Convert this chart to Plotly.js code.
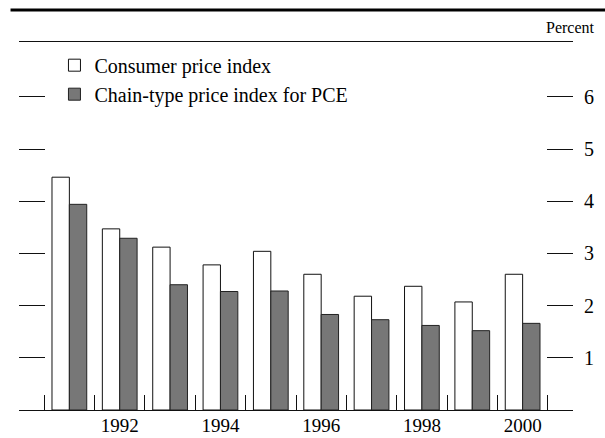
<!DOCTYPE html>
<html>
<head>
<meta charset="utf-8">
<script src="https://cdn.plot.ly/plotly-3.0.1.min.js"></script>
<style>html,body{margin:0;padding:0;background:#fff;}#chart{width:605px;height:438px;}</style>
</head>
<body>
<div id="chart"></div>
<script>
var years = [1991, 1992, 1993, 1994, 1995, 1996, 1997, 1998, 1999, 2000];
var cpi = [4.46, 3.47, 3.12, 2.78, 3.04, 2.60, 2.18, 2.37, 2.07, 2.60];
var pce = [3.94, 3.29, 2.40, 2.27, 2.28, 1.83, 1.73, 1.62, 1.52, 1.66];
var seriesNames = ["Consumer price index", "Chain-type price index for PCE"];
var xLabelYears = [1992, 1994, 1996, 1998, 2000];
var xTickLabels = ["1992", "1994", "1996", "1998", "2000"];
var yTicks = [1, 2, 3, 4, 5, 6];
var yTickLabels = ["1", "2", "3", "4", "5", "6"];
var dividers = [1990.5, 1991.5, 1992.5, 1993.5, 1994.5, 1995.5, 1996.5, 1997.5, 1998.5, 1999.5, 2000.5];
var edges = [1990, 2001];
var xRange = [1990, 2001];
var yRange = [0, 7.05];

var FONT = "'Liberation Serif', 'Times New Roman', Times, 'DejaVu Serif', serif";

var traces = [
  {type: "bar", x: years, y: cpi, name: seriesNames[0],
   marker: {color: "#ffffff", line: {color: "#111111", width: 1}}, hoverinfo: "x+y"},
  {type: "bar", x: years, y: pce, name: seriesNames[1],
   marker: {color: "#777777", line: {color: "#222222", width: 1}}, hoverinfo: "x+y"}
];

var layout = {
  width: 605, height: 438,
  margin: {l: 18.5, r: 32, t: 41.5, b: 28, pad: 0},
  paper_bgcolor: "#ffffff", plot_bgcolor: "#ffffff",
  font: {family: FONT, size: 20, color: "#000000"},
  barmode: "group", bargap: 0.31, bargroupgap: 0,
  showlegend: true,
  legend: {x: 0.064, xanchor: "left", y: 0.99, yanchor: "top",
           bgcolor: "rgba(0,0,0,0)", borderwidth: 0, tracegroupgap: 0,
           font: {family: FONT, size: 20, color: "#000"}, traceorder: "normal"},
  xaxis: {type: "linear", range: xRange, fixedrange: true,
          showgrid: false, zeroline: false,
          showline: true, linecolor: "#111", linewidth: 1, mirror: true,
          tickmode: "array", tickvals: dividers, ticks: "inside", ticklen: 15,
          tickwidth: 1, tickcolor: "#111", showticklabels: false},
  xaxis2: {type: "linear", range: xRange, overlaying: "x", anchor: "y", side: "bottom",
           fixedrange: true, showgrid: false, zeroline: false, showline: false,
           tickmode: "array", tickvals: xLabelYears, ticktext: xTickLabels, ticks: "",
           ticklabelstandoff: 2,
           tickfont: {family: FONT, size: 19, color: "#000"}},
  xaxis3: {type: "linear", range: xRange, overlaying: "x", anchor: "y", side: "bottom",
           fixedrange: true, showgrid: false, zeroline: false, showline: false,
           tickmode: "array", tickvals: edges, ticks: "inside", ticklen: 20,
           tickwidth: 1, tickcolor: "#111", showticklabels: false},
  yaxis: {range: yRange, fixedrange: true, side: "right",
          showgrid: false, zeroline: false, showline: false,
          tickmode: "array", tickvals: yTicks, ticktext: yTickLabels,
          ticks: "inside", ticklen: 26, tickwidth: 1, tickcolor: "#111", mirror: "ticks",
          ticklabelstandoff: 10,
          tickfont: {family: FONT, size: 20, color: "#000"}},
  shapes: [
    {type: "line", xref: "paper", yref: "paper", x0: -0.0153, x1: 1.06, y0: 1.0868, y1: 1.0868,
     line: {color: "#000", width: 3}}
  ],
  annotations: [
    {text: "Percent", xref: "paper", yref: "paper", x: 1.0433, y: 1.0393,
     xanchor: "right", yanchor: "middle", showarrow: false,
     font: {family: FONT, size: 16, color: "#000"}}
  ]
};

traces.push({type: "scatter", x: [], y: [], xaxis: "x2", yaxis: "y", showlegend: false, hoverinfo: "skip"});
traces.push({type: "scatter", x: [], y: [], xaxis: "x3", yaxis: "y", showlegend: false, hoverinfo: "skip"});

Plotly.newPlot("chart", traces, layout, {staticPlot: true, displayModeBar: false});
</script>
</body>
</html>
